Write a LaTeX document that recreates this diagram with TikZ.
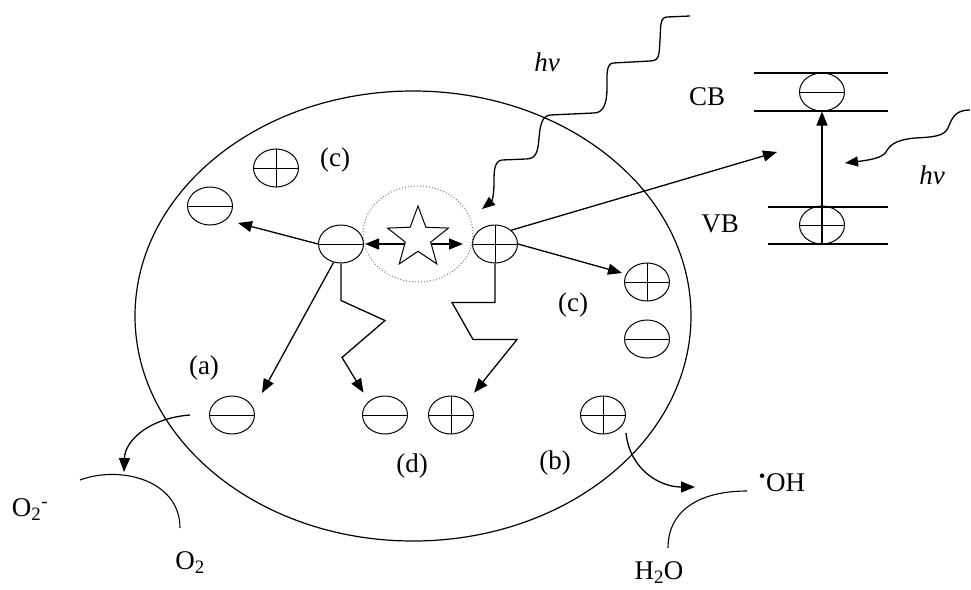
\documentclass[tikz,border=0pt]{standalone}
\usepackage{fontspec}
\setmainfont{Liberation Serif}
\usetikzlibrary{shapes.geometric,arrows.meta}
\begin{document}
\begin{tikzpicture}[x=1pt,y=-1pt,
  lbl/.style={font=\fontsize{27}{32}\selectfont, inner sep=0pt},
  part/.style={draw, ellipse, minimum width=45pt, minimum height=38pt, inner sep=0pt, line width=1pt},
  negpart/.style={part, path picture={\draw[line width=1pt] (path picture bounding box.west) -- (path picture bounding box.east);}},
  pospart/.style={part, path picture={\draw[line width=1pt] (path picture bounding box.west) -- (path picture bounding box.east);
      \draw[line width=1pt] (path picture bounding box.north) -- (path picture bounding box.south);}},
  arr/.style={line width=1.3pt, -{Triangle[length=14pt,width=11pt]}},
  dbl/.style={line width=1.3pt, {Triangle[length=14pt,width=11pt]}-{Triangle[length=14pt,width=11pt]}},
  wave/.style={line width=1.3pt, -{Triangle[length=13pt,width=10pt]}},
  band/.style={line width=1.1pt},
  arcl/.style={line width=1.1pt}]
\useasboundingbox (0,0) rectangle (971,589);

% grain
\node[draw, ellipse, minimum width=556pt, minimum height=450pt, inner sep=0pt, line width=1.2pt] (grain) at (413,316) {};

% dotted excitation region
\node[draw=gray, dotted, ellipse, minimum width=110pt, minimum height=96pt, inner sep=0pt, line width=1pt] (exc) at (418,234) {};

% central pair
\node[negpart] (mc) at (341,244) {};
\node[pospart] (pc) at (495,244) {};

% double arrow behind star
\draw[dbl, shorten >=9pt, shorten <=1pt] (mc.east) -- (pc.west);
\node[draw, star, star points=5, star point ratio=2.4, minimum size=64pt, inner sep=0pt, fill=white, line width=1pt] (st) at (418,238) {};

% other particles
\node[negpart] (cl) at (210,206) {};
\node[pospart] (ct) at (276,168) {};
\node[pospart] (cr) at (647,282) {};
\node[negpart] (cr2) at (647,339) {};
\node[negpart] (am) at (232,415) {};
\node[negpart] (dm) at (385,415) {};
\node[pospart] (dp) at (451,415) {};
\node[pospart] (bp) at (603,415) {};

% band diagram
\draw[band] (754,73) -- (888,73);
\draw[band] (754,111) -- (888,111);
\draw[band] (768,207) -- (888,207);
\draw[band] (768,244) -- (888,244);
\node[negpart] (cbp) at (822,92) {};
\node[pospart] (vbp) at (822,225) {};
\draw[arr] (vbp.south) -- (cbp.south);

% tip coordinates
\coordinate (tcl) at (238,223);
\coordinate (tcr) at (622,273);
\coordinate (tband) at (777,152);
\coordinate (ta) at (262,393);
\coordinate (wtop) at (690,16);
\coordinate (wtip) at (482,209);
\coordinate (wr) at (970,110);
\coordinate (wrtip) at (845,163);
\coordinate (ls) at (190,415);
\coordinate (lt) at (124,472);
\coordinate (rs) at (626,433);
\coordinate (rt) at (695,487);
\coordinate (o2a) at (80,480);
\coordinate (o2b) at (180,528);
\coordinate (h2a) at (668,548);
\coordinate (h2b) at (747,491);

% arrows from central pair
\draw[arr] (mc.west) -- (tcl);
\draw[arr] (pc.east) -- (tcr);
\draw[arr] (pc.north east) -- (tband);
\draw[arr] (mc.-112) -- (ta);
\draw[arr, shorten >=10pt] (mc.south) -- ++(0,37) -- ++(44,20) -- ++(-43,37) -- (dm.north west);
\draw[arr, shorten >=11pt] (pc.south) -- ++(0,39) -- ++(-43,0) -- ++(21,37) -- ++(44,0) -- (dp.north east);

% photons
\draw[wave] (wtop) -- (667,17) .. controls (659,17) and (661,30) .. (660,40)
  .. controls (659,54) and (660,61) .. (650,61) -- (613,63)
  .. controls (606,64) and (607,75) .. (607,88)
  .. controls (607,102) and (604,113) .. (594,113) -- (550,115)
  .. controls (541,116) and (540,128) .. (539,138)
  .. controls (538,152) and (536,159) .. (526,159) -- (502,160)
  .. controls (494,161) and (494,172) .. (494,182)
  .. controls (494,195) and (492,201) .. (wtip);
\draw[wave] (wr) .. controls (955,110) and (952,118) .. (948,128)
  .. controls (944,136) and (935,137) .. (915,138)
  .. controls (895,140) and (890,145) .. (886,152)
  .. controls (882,158) and (870,160) .. (wrtip);

% surface reactions
\draw[arr] (ls) .. controls (150,418) and (125,440) .. (lt);
\draw[arcl] (o2a) .. controls (120,465) and (180,480) .. (o2b);
\draw[arr] (rs) .. controls (630,470) and (660,487) .. (rt);
\draw[arcl] (h2a) .. controls (668,510) and (700,491) .. (h2b);

% labels
\node[lbl] (lc1) at (335,160) {(c)};
\node[lbl] (lc2) at (573,305) {(c)};
\node[lbl] (la) at (204,368) {(a)};
\node[lbl] (ld) at (412,466) {(d)};
\node[lbl] (lb) at (555,463) {(b)};
\node[lbl] (lcb) at (707,97) {CB};
\node[lbl] (lvb) at (720,224) {VB};
\node[lbl] (hv1) at (547,62) {\itshape hv};
\node[lbl] (hv2) at (932,175) {\itshape hv};
\node[lbl] (lo2m) at (30,510) {O\textsubscript{2}\textsuperscript{-}};
\node[lbl] (lo2) at (190,563) {O\textsubscript{2}};
\node[lbl] (loh) at (782,483) {\textsuperscript{\textbullet}OH};
\node[lbl] (lh2o) at (659,573) {H\textsubscript{2}O};
\end{tikzpicture}
\end{document}
